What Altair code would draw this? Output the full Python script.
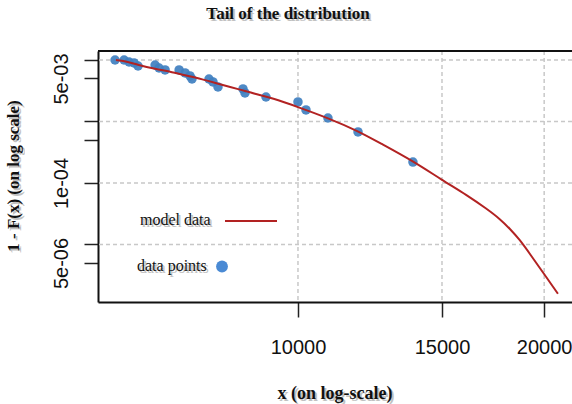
import altair as alt
import pandas as pd

title_text = "Tail of the distribution"
x_title = "x (on log-scale)"
y_title = "1 - F(x) (on log scale)"
legend_labels = ["model data", "data points"]

# empirical tail points
pts_x = [5975, 6129, 6216, 6304, 6375, 6688, 6763, 6879, 7156, 7278, 7379, 7420,
         7784, 7872, 7984, 8566, 8614, 9139, 10000, 10228, 10881, 11842, 13822]
pts_y = [1.00e-2, 1.00e-2, 9.27e-3, 8.94e-3, 7.99e-3, 8.29e-3, 7.41e-3, 6.88e-3,
         6.88e-3, 6.15e-3, 5.50e-3, 4.91e-3, 4.91e-3, 4.39e-3, 3.64e-3, 3.38e-3,
         2.91e-3, 2.50e-3, 2.08e-3, 1.54e-3, 1.14e-3, 6.75e-4, 2.19e-4]

# fitted model curve
model_x = [5990, 6145, 6375, 6688, 7015, 7338, 7697, 8076, 8445, 8859, 9295, 10000,
           10881, 11842, 12596, 13822, 15000, 16088, 17021, 17660, 18160, 18684,
           19214, 20000, 20790]
model_y = [1.0e-2, 9.63e-3, 8.29e-3, 7.14e-3, 6.38e-3, 5.50e-3, 4.73e-3, 3.92e-3,
           3.38e-3, 2.80e-3, 2.41e-3, 1.72e-3, 1.14e-3, 7.01e-4, 4.47e-4, 2.28e-4,
           1.119e-4, 6.38e-5, 3.78e-5, 2.60e-5, 1.80e-5, 1.18e-5, 7.00e-6, 3.30e-6,
           1.58e-6]

x_domain = [5695, 21630]
y_domain = [1.16e-6, 1.40e-2]
x_ticks = [10000, 15000, 20000]
y_ticks = [1e-2, 5e-3, 1e-3, 5e-4, 1e-4, 1e-5, 5e-6]
y_tick_labels = ["", "5e-03", "", "", "1e-04", "", "5e-06"]
grid_y = [1e-2, 1e-3, 1e-4, 1e-5]
grid_x = [10000, 15000, 20000]

W, H = 474, 251

xs = alt.Scale(type="log", domain=x_domain, nice=False)
ys = alt.Scale(type="log", domain=y_domain, nice=False)

parts = []
for v, lab in zip(y_ticks, y_tick_labels):
    if lab:
        parts.append(f"abs(datum.value - {v!r}) < {v!r} * 1e-6 ? '{lab}'")
ylabel_expr = " : ".join(parts) + " : ''"

xaxis = alt.Axis(values=x_ticks, title=None, grid=False, format="d",
                 tickSize=15, tickWidth=1.5, tickColor="#222",
                 domainColor="#111", domainWidth=2,
                 labelFont="Liberation Sans", labelFontSize=20, labelColor="#111",
                 labelPadding=20, labelFlush=False, labelOverlap=False)
yaxis = alt.Axis(values=y_ticks, title=None, grid=False,
                 tickSize=14, tickWidth=1.5, tickColor="#222",
                 domainColor="#111", domainWidth=2,
                 labelFont="Liberation Sans", labelFontSize=20, labelColor="#111",
                 labelAngle=270, labelAlign="center", labelBaseline="bottom",
                 labelPadding=13, labelFlush=False, labelOverlap=False,
                 labelExpr=ylabel_expr)

X = lambda: alt.X("x:Q", scale=xs, axis=xaxis)
Y = lambda: alt.Y("y:Q", scale=ys, axis=yaxis)

grid_style = dict(color="#c8c8c8", strokeWidth=1.5, strokeDash=[4, 3])
gy = alt.Chart(pd.DataFrame({"y": grid_y})).mark_rule(**grid_style).encode(y=Y())
gx = alt.Chart(pd.DataFrame({"x": grid_x})).mark_rule(**grid_style).encode(x=X())

pts = alt.Chart(pd.DataFrame({"x": pts_x, "y": pts_y})).mark_circle(
    size=90, color="#3f7fc0", opacity=0.92).encode(x=X(), y=Y())
line = alt.Chart(pd.DataFrame({"x": model_x, "y": model_y})).mark_line(
    color="#b22222", strokeWidth=2, interpolate="basis").encode(x=X(), y=Y())

one = pd.DataFrame({"a": [0]})
top_border = alt.Chart(one).mark_rule(color="#111", strokeWidth=2).encode(
    x=alt.value(0), x2=alt.value(W), y=alt.value(0))


def label(text, x, y, size, bold, angle=0, align="center", shadow=True):
    out = []
    df = pd.DataFrame({"t": [text]})
    kw = dict(font="Liberation Serif", fontSize=size,
              fontWeight="bold" if bold else "normal", align=align,
              baseline="middle")
    if angle:
        kw["angle"] = angle
    if shadow:
        out.append(alt.Chart(df).mark_text(color="#777", opacity=0.45, **kw).encode(
            text="t:N", x=alt.value(x + 2), y=alt.value(y + 2)))
    out.append(alt.Chart(df).mark_text(color="#111", **kw).encode(
        text="t:N", x=alt.value(x), y=alt.value(y)))
    return out


texts = []
texts += label(title_text, 190, -37, 17, True)
texts += label(x_title, 237, 343, 18, True)
texts += label(y_title, -84, 125, 17, True, angle=270)
texts += label(legend_labels[0], 42, 169, 16, False, align="left")
texts += label(legend_labels[1], 39, 215, 16, False, align="left")

leg_line = alt.Chart(one).mark_rule(color="#b22222", strokeWidth=2).encode(
    x=alt.value(127), x2=alt.value(179), y=alt.value(170))
leg_dot = alt.Chart(one).mark_circle(size=140, color="#4a8ad4", opacity=1).encode(
    x=alt.value(124), y=alt.value(215.5))

chart = alt.layer(gy, gx, pts, line, top_border, leg_line, leg_dot, *texts).properties(
    width=W, height=H,
    autosize=alt.AutoSizeParams(type="none"),
    padding={"left": 98, "top": 51, "right": 0, "bottom": 102},
    background="white",
).configure_view(stroke=None)

chart.save("out.html", embed_options={"renderer": "svg", "actions": False})
